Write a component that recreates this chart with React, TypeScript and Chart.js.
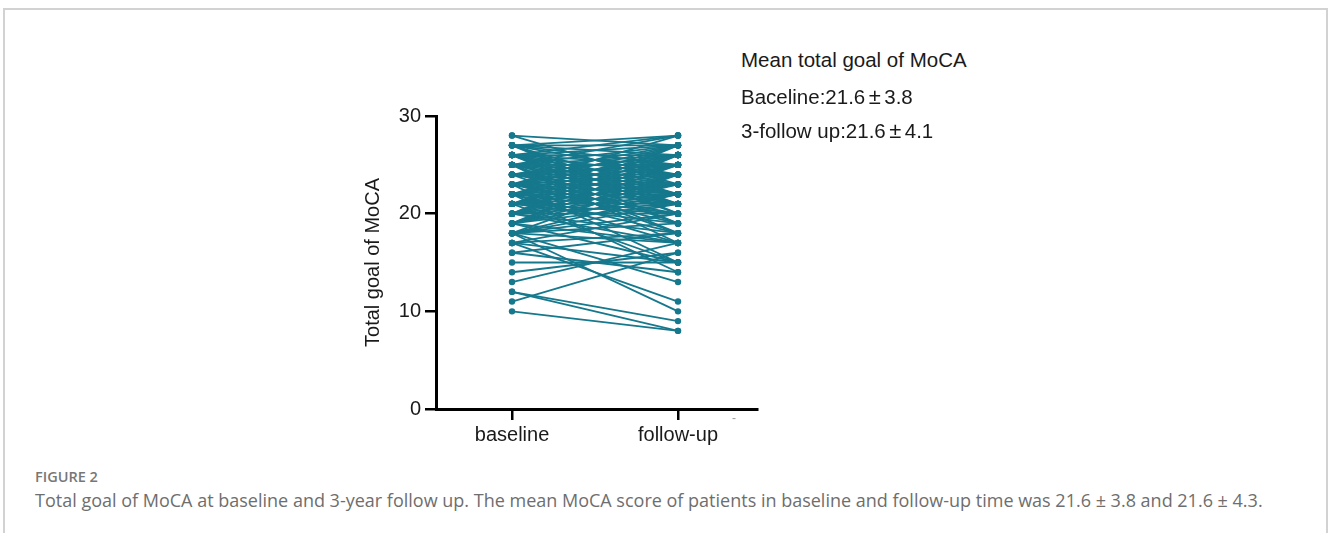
import React, { useEffect, useRef } from 'react';
import { Chart, registerables } from 'chart.js';

Chart.register(...registerables);

// Categories (x positions 0 and 1)
const categories = ['baseline', 'follow-up'];

// Per-patient MoCA totals (paired by index)
const baselineScores = [
  10, 11, 12, 12, 13, 14, 15, 16, 16, 17,
  17, 17, 18, 18, 18, 18, 18, 19, 19, 19,
  19, 19, 20, 20, 20, 20, 20, 20, 21, 21,
  21, 21, 21, 21, 21, 22, 22, 22, 22, 22,
  22, 22, 23, 23, 23, 23, 23, 23, 23, 23,
  24, 24, 24, 24, 24, 24, 24, 24, 25, 25,
  25, 25, 25, 25, 25, 26, 26, 26, 26, 26,
  26, 27, 27, 27, 27, 27, 28, 28,
  18, 18, 19, 19, 19, 20, 20, 20, 21, 21,
  21, 21, 22, 22, 22, 22, 23, 23, 23, 23,
  24, 24, 24, 24, 25, 25, 25, 25, 26, 26,
  26, 26, 27, 27, 27, 20, 19, 22, 17, 18,
  25, 23,
];

const followUpScores = [
  8, 16, 9, 8, 17, 16, 15, 14, 18, 15,
  11, 20, 10, 13, 21, 17, 24, 15, 22, 25,
  22, 23, 17, 24, 21, 26, 23, 22, 23, 24,
  25, 20, 27, 22, 15, 25, 24, 21, 26, 23,
  14, 25, 24, 22, 25, 26, 27, 24, 21, 26,
  22, 25, 25, 27, 23, 25, 26, 24, 21, 28,
  23, 24, 25, 26, 22, 24, 27, 22, 25, 19,
  23, 25, 28, 26, 21, 24, 27, 23,
  22, 19, 21, 17, 24, 18, 25, 20, 19, 26,
  21, 23, 18, 27, 20, 22, 19, 23, 28, 20,
  21, 18, 26, 22, 19, 27, 25, 18, 21, 26,
  20, 28, 22, 27, 20, 27, 26, 17, 18, 20,
  17, 15,
];

const yTicks = [0, 10, 20, 30];
const yTitle = 'Total goal of MoCA';

const summaryTitle = 'Mean total goal of MoCA';
const summaryRows = [
  { label: 'Baceline:', mean: '21.6', sd: '3.8' },
  { label: '3-follow up:', mean: '21.6', sd: '4.1' },
];

const figureLabel = 'FIGURE 2';
const captionText =
  'Total goal of MoCA at baseline and 3-year follow up. The mean MoCA score of patients in baseline and follow-up time was 21.6 \u00B1 3.8 and 21.6 \u00B1 4.3.';

const TEAL = '#16788c';
const FONT = "'Liberation Sans', Arial, sans-serif";

function PairedChart() {
  const ref = useRef<HTMLCanvasElement | null>(null);

  useEffect(() => {
    if (!ref.current) return;
    const datasets = baselineScores.map((b, i) => ({
      data: [
        { x: 0, y: b },
        { x: 1, y: followUpScores[i] },
      ],
      borderColor: TEAL,
      backgroundColor: TEAL,
      borderWidth: 1.8,
      pointRadius: 3.2,
      pointBorderWidth: 0,
      pointBackgroundColor: TEAL,
      fill: false,
    }));

    const chart = new Chart(ref.current, {
      type: 'line',
      data: { datasets },
      options: {
        animation: false,
        responsive: false,
        maintainAspectRatio: false,
        layout: { padding: { left: 21, top: 26, right: 23, bottom: 0 } },
        plugins: {
          legend: { display: false },
          tooltip: { enabled: false },
        },
        scales: {
          x: {
            type: 'linear',
            min: -0.458,
            max: 1.476,
            afterBuildTicks: (scale: any) => {
              scale.ticks = categories.map((_, i) => ({ value: i }));
            },
            afterFit: (scale: any) => {
              scale.height = 51;
            },
            ticks: {
              callback: (v: any) => categories[Number(v)] ?? '',
              color: '#1a1a1a',
              font: { family: FONT, size: 20 },
              padding: 3,
              maxRotation: 0,
              autoSkip: false,
            },
            grid: {
              display: true,
              drawOnChartArea: false,
              drawTicks: true,
              tickLength: 11,
              color: '#000',
              lineWidth: 2.5,
            },
            border: { display: true, color: '#000', width: 3 },
          },
          y: {
            type: 'linear',
            min: 0,
            max: 30,
            afterBuildTicks: (scale: any) => {
              scale.ticks = yTicks.map((v) => ({ value: v }));
            },
            afterFit: (scale: any) => {
              scale.width = 75;
            },
            ticks: {
              color: '#1a1a1a',
              font: { family: FONT, size: 20 },
              padding: 4,
            },
            grid: {
              display: true,
              drawOnChartArea: false,
              drawTicks: true,
              tickLength: 11,
              color: '#000',
              lineWidth: 2.5,
            },
            border: { display: true, color: '#000', width: 3 },
            title: {
              display: true,
              text: yTitle,
              color: '#1a1a1a',
              font: { family: FONT, size: 20 },
              padding: 0,
            },
          },
        },
      },
    });
    return () => chart.destroy();
  }, []);

  return (
    <canvas
      ref={ref}
      width={440}
      height={370}
      style={{ position: 'absolute', left: 340, top: 90, width: 440, height: 370 }}
    />
  );
}

export default function App() {
  useEffect(() => {
    document.body.style.margin = '0';
  }, []);
  const lineStyle = {
    position: 'absolute' as const,
    left: 741,
    fontSize: 20.5,
    lineHeight: '24px',
    color: '#1a1a1a',
    whiteSpace: 'nowrap' as const,
  };
  return (
    <div
      style={{
        position: 'relative',
        width: 1328,
        height: 533,
        overflow: 'hidden',
        background: '#fff',
        fontFamily: FONT,
      }}
    >
      <div
        style={{
          position: 'absolute',
          left: 3,
          top: 8,
          width: 1325,
          height: 560,
          boxSizing: 'border-box',
          border: '2px solid #d2d2d2',
        }}
      />
      <PairedChart />
      <div style={{ ...lineStyle, top: 48 }}>{summaryTitle}</div>
      {summaryRows.map((r, i) => (
        <div key={i} style={{ ...lineStyle, top: [85, 119][i] }}>
          {r.label}
          {r.mean}
          <span style={{ display: 'inline-block', width: 19, textAlign: 'center', fontSize: 22 }}>
            {'\u00B1'}
          </span>
          {r.sd}
        </div>
      ))}
      <div
        style={{
          position: 'absolute',
          left: 732,
          top: 411,
          fontSize: 12,
          color: '#999',
        }}
      >
        -
      </div>
      <div
        style={{
          position: 'absolute',
          left: 35,
          top: 469,
          fontSize: 14.5,
          lineHeight: '16px',
          color: '#777',
          fontFamily: "'Open Sans', sans-serif",
          fontWeight: 600,
          whiteSpace: 'nowrap',
        }}
      >
        {figureLabel}
      </div>
      <div
        style={{
          position: 'absolute',
          left: 35,
          top: 489,
          fontSize: 18,
          lineHeight: '22px',
          color: '#6e6e6e',
          fontFamily: "'Open Sans', sans-serif",
          whiteSpace: 'nowrap',
        }}
      >
        {captionText}
      </div>
    </div>
  );
}
